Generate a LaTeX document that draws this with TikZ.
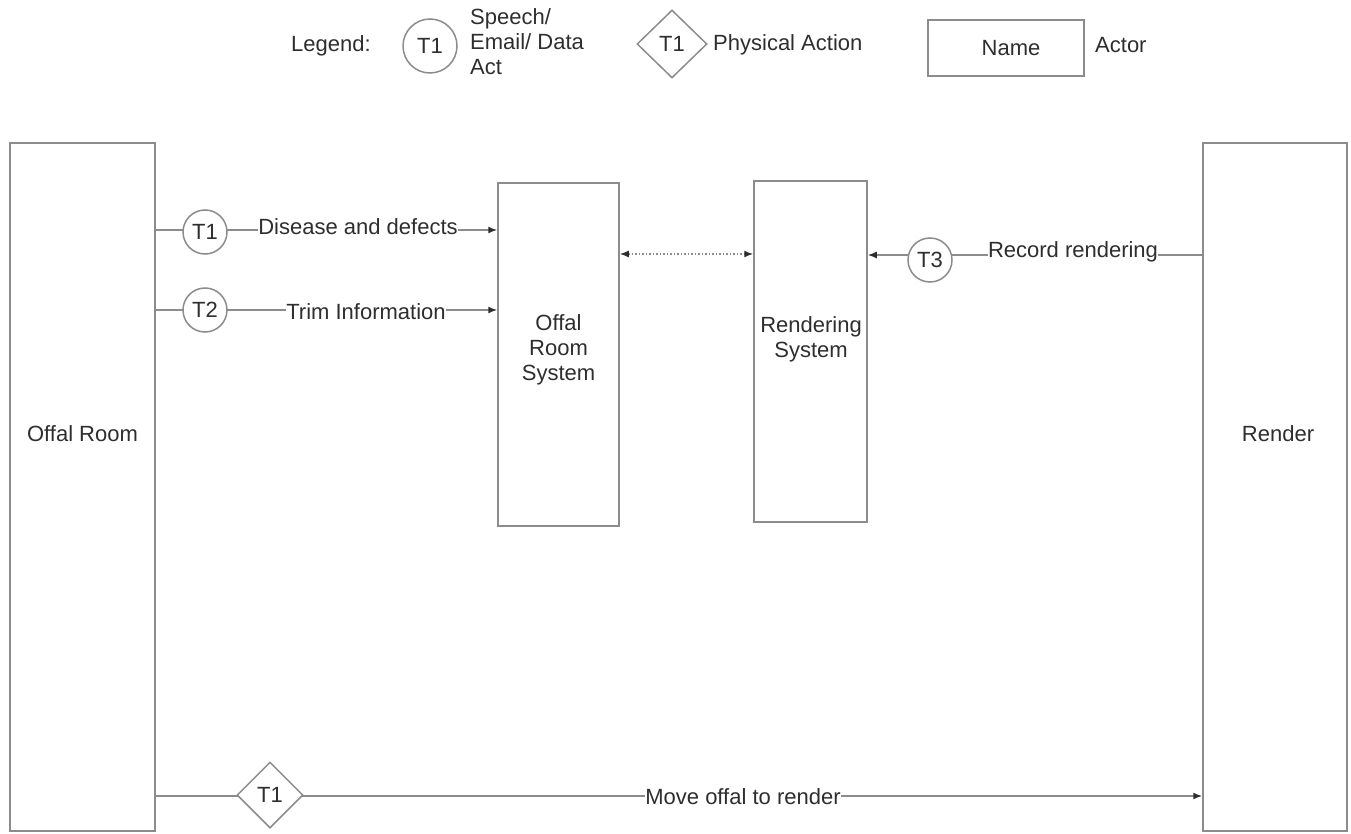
\documentclass[tikz,border=0pt]{standalone}
\usepackage{fontspec}
\setmainfont{Liberation Sans}
\usetikzlibrary{shapes.geometric,arrows.meta,backgrounds}
\definecolor{ln}{HTML}{8C8C8C}
\definecolor{tx}{HTML}{2E2E2E}
\begin{document}
\begin{tikzpicture}[x=1pt,y=-1pt,
  every node/.style={text=tx,font=\fontsize{22}{25}\selectfont},
  actor/.style={draw=ln,line width=1.5pt,fill=white,inner sep=0pt,align=center},
  act/.style={draw=ln,line width=1.5pt,fill=white,circle,minimum size=44pt,inner sep=0pt},
  phys/.style={draw=ln,line width=1.5pt,fill=white,diamond,minimum width=66pt,minimum height=66pt,inner sep=0pt},
  lab/.style={fill=white,inner xsep=0pt,inner ysep=1pt},
  txt/.style={align=center,inner sep=0pt},
  tip/.style={Latex[length=9pt,width=7pt,color=tx]},
  conn/.style={draw=ln,line width=1.5pt},
  arr/.style={conn,-{Latex[length=9pt,width=7pt,color=tx]}},
  dotarr/.style={draw=ln,line width=1.5pt,dotted,{Latex[length=9pt,width=7pt,color=tx]}-{Latex[length=9pt,width=7pt,color=tx]}}]
\useasboundingbox (0,0) rectangle (1351,834);
% legend
\node[anchor=center] (leg) at (331,46) {Legend:};
\node[act,minimum size=54pt] (lc) at (430,46) {T1};
\node[anchor=west,align=left,inner sep=0pt] (lct) at (470,42) {Speech/\\Email/ Data\\Act};
\node[phys,minimum width=70pt,minimum height=68pt] (ld) at (672,44) {T1};
\node[anchor=west,inner sep=0pt] (ldt) at (713,45) {Physical Action};
\node[actor,minimum width=156pt,minimum height=56pt] (lb) at (1006,48) {};
\node[txt] (lbn) at (1011,48) {Name};
\node[anchor=west,inner sep=0pt] (lbt) at (1095,45) {Actor};
% actors
\node[actor,minimum width=145pt,minimum height=688pt] (OR) at (82.5,487) {};
\node[txt] (ORt) at (82.5,434) {Offal Room};
\node[actor,minimum width=144pt,minimum height=688pt] (RN) at (1275,487) {};
\node[txt] (RNt) at (1278,434) {Render};
\node[actor,minimum width=121pt,minimum height=343pt] (ORS) at (558.5,354.5) {};
\node[txt] (ORSt) at (558.5,350) {Offal\\Room\\System};
\node[actor,minimum width=113pt,minimum height=341pt] (RS) at (810.5,351.5) {};
\node[txt] (RSt) at (811,339) {Rendering\\System};
% acts
\node[act] (t1) at (205,232) {T1};
\node[act] (t2) at (205,310) {T2};
\node[act] (t3) at (930,260) {T3};
\node[phys] (p1) at (270,795) {T1};
\coordinate (y1) at (0,230);
\coordinate (y2) at (0,310);
\coordinate (y3) at (0,255);
\coordinate (yd) at (0,254);
\coordinate (y4) at (0,796);
\node[lab] (l1) at (358,227) {Disease and defects};
\node[lab] (l2) at (366,312) {Trim Information};
\node[lab] (l3) at (1073,252) {Record rendering};
\node[lab] (l4) at (743,797) {Move offal to render};
\begin{pgfonlayer}{background}
\draw[arr] (OR.east |- y1) -- (ORS.west |- y1);
\draw[arr] (OR.east |- y2) -- (ORS.west |- y2);
\draw[arr] (RN.west |- y3) -- (RS.east |- y3);
\draw[dotarr] (ORS.east |- yd) -- (RS.west |- yd);
\draw[arr] (OR.east |- y4) -- (RN.west |- y4);
\end{pgfonlayer}
\end{tikzpicture}
\end{document}
